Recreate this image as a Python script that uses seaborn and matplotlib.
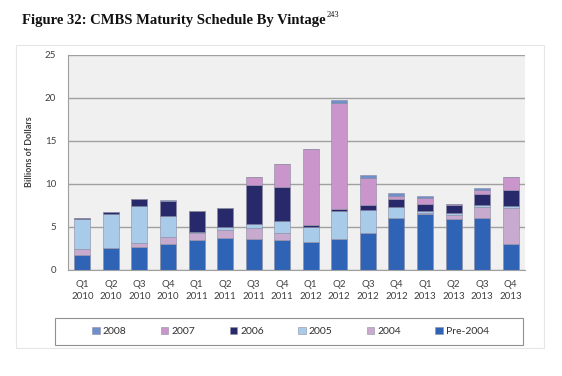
import pandas as pd
import matplotlib
matplotlib.use("Agg")
import matplotlib.pyplot as plt
from matplotlib.patches import Patch, Rectangle
import seaborn as sns

# Data (billions of dollars), stacked from bottom to top
quarters = ["Q1\n2010", "Q2\n2010", "Q3\n2010", "Q4\n2010",
            "Q1\n2011", "Q2\n2011", "Q3\n2011", "Q4\n2011",
            "Q1\n2012", "Q2\n2012", "Q3\n2012", "Q4\n2012",
            "Q1\n2013", "Q2\n2013", "Q3\n2013", "Q4\n2013"]
pre2004 = [1.75, 2.5, 2.7, 3.0, 3.45, 3.75, 3.6, 3.45, 3.3, 3.65, 4.25, 6.05, 6.5, 5.9, 6.0, 3.0]
v2004 = [0.65, 0.05, 0.4, 0.8, 0.8, 0.9, 1.3, 0.8, 0.0, 0.0, 0.0, 0.0, 0.15, 0.5, 1.3, 4.25]
v2005 = [3.5, 3.9, 4.35, 2.5, 0.2, 0.35, 0.5, 1.5, 1.7, 3.25, 2.7, 1.3, 0.15, 0.2, 0.2, 0.2]
v2006 = [0.1, 0.25, 0.8, 1.7, 2.35, 2.2, 4.5, 3.9, 0.2, 0.15, 0.6, 0.9, 0.85, 0.9, 1.35, 1.85]
v2007 = [0, 0, 0, 0, 0, 0, 0.9, 2.7, 8.9, 12.4, 3.1, 0.3, 0.7, 0.2, 0.4, 1.5]
v2008 = [0, 0, 0, 0.1, 0, 0, 0, 0, 0, 0.3, 0.4, 0.35, 0.2, 0, 0.25, 0]

vintages = ["2008", "2007", "2006", "2005", "2004", "Pre-2004"]
series = {"2008": v2008, "2007": v2007, "2006": v2006,
          "2005": v2005, "2004": v2004, "Pre-2004": pre2004}
colors = {"2008": "#6d8fcc", "2007": "#c995cb", "2006": "#27296b",
          "2005": "#a9cbea", "2004": "#c9aacf", "Pre-2004": "#2f63b6"}

rows = []
for v in vintages:
    for q, val in zip(quarters, series[v]):
        rows.append({"quarter": q, "vintage": v, "value": val})
df = pd.DataFrame(rows)

sns.set_theme(style="white")
plt.rcParams["font.family"] = ["Lato", "DejaVu Sans"]

fig = plt.figure(figsize=(5.62, 3.76), dpi=100)
ax = fig.add_axes([0.121, 0.282, 0.813, 0.572])
ax.set_facecolor("#f0f0f0")

sns.histplot(data=df, x="quarter", weights="value", hue="vintage",
             hue_order=vintages, multiple="stack", discrete=True, shrink=0.56,
             palette=colors, alpha=1, edgecolor="#8a8aa0", linewidth=0.4,
             legend=False, ax=ax)

ax.set_xlim(-0.5, len(quarters) - 0.5)
ax.set_ylim(0, 25)
ax.set_yticks(range(0, 26, 5))
ax.set_xticks(range(len(quarters)))
ax.set_xticklabels(quarters, fontsize=7, color="#404040", linespacing=1.45)
ax.set_xticks([i + 0.5 for i in range(-1, len(quarters))], minor=True)
ax.tick_params(axis="x", which="major", length=0, pad=7)
ax.tick_params(axis="x", which="minor", length=3.5, color="#a0a0a0", width=0.8)
ax.tick_params(axis="y", length=3.5, color="#a0a0a0", width=0.8, labelsize=7,
               labelcolor="#404040", pad=5)
ax.set_xlabel("")
ax.set_ylabel("")
ax.set_axisbelow(True)
ax.yaxis.grid(True, color="#a0a0a0", linewidth=1)
for s in ["top", "right"]:
    ax.spines[s].set_visible(False)
for s in ["left", "bottom"]:
    ax.spines[s].set_color("#a0a0a0")
    ax.spines[s].set_linewidth(0.8)

fig.text(0.053, 0.597, "Billions of Dollars", rotation=90, ha="center",
         va="center", fontsize=6.5, fontweight="bold", color="#404040")

# title with superscript
t = fig.text(0.039, 0.936, "Figure 32: CMBS Maturity Schedule By Vintage",
             fontsize=10.5, fontweight="bold", family="Liberation Serif",
             va="baseline", color="#111111")
fig.canvas.draw()
bb = t.get_window_extent().transformed(fig.transFigure.inverted())
fig.text(bb.x1 + 0.002, 0.955, "243", fontsize=6, family="Liberation Serif",
         va="baseline", color="#111111")

# legend
handles = [Patch(facecolor=colors[v], edgecolor="#9090a0", linewidth=0.4) for v in vintages]
fig.legend(handles, vintages, loc="center", mode="expand", ncol=6,
           bbox_to_anchor=(0.153, 0.08, 0.728, 0.076), frameon=False,
           fontsize=7.5, handlelength=0.7, handleheight=0.7, handletextpad=0.3,
           borderpad=0.1, labelcolor="#303030")
fig.patches.append(Rectangle((55 / 562, 1 - 345 / 376), 468 / 562, 27 / 376,
                             transform=fig.transFigure, fill=False,
                             edgecolor="#909090", linewidth=0.8))
fig.patches.append(Rectangle((16 / 562, 1 - 348 / 376), 528 / 562, 303 / 376,
                             transform=fig.transFigure, fill=False,
                             edgecolor="#e6e6e6", linewidth=0.8))

fig.savefig("out.png", dpi=100)
